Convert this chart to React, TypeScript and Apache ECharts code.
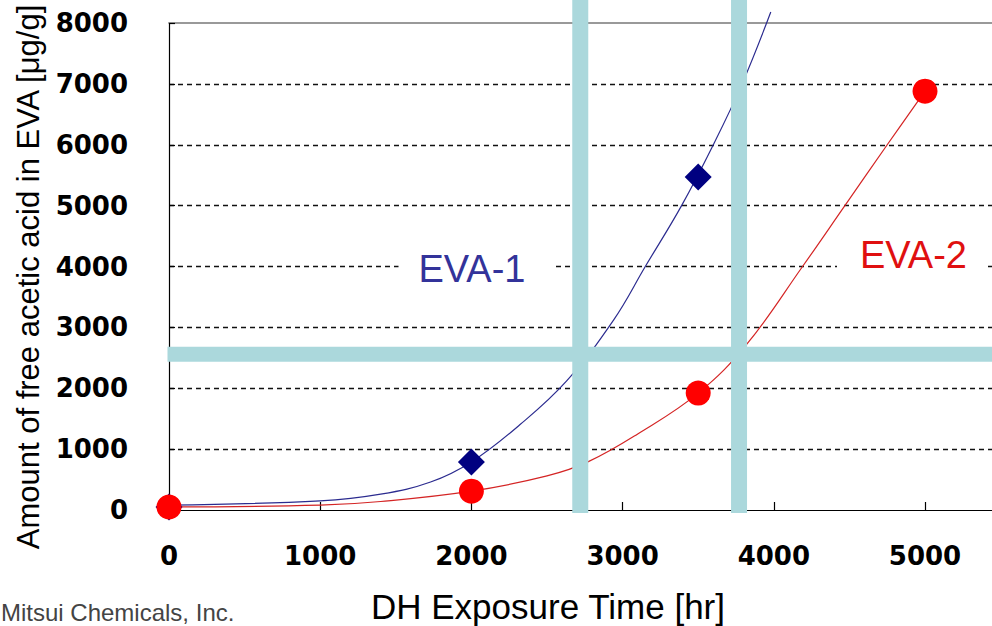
import React, { useEffect, useRef } from "react";
import * as echarts from "echarts";

// ---- data ----
const xTicks = [0, 1000, 2000, 3000, 4000, 5000];
const yTicks = [0, 1000, 2000, 3000, 4000, 5000, 6000, 7000, 8000];

// measured points
const eva1Points: [number, number][] = [
  [0, 50],
  [2000, 790],
  [3500, 5470],
];
const eva2Points: [number, number][] = [
  [0, 50],
  [2000, 310],
  [3500, 1920],
  [5000, 6880],
];

// fitted trend curves
const eva1Curve: [number, number][] = [
  [0, 80], [1000, 150], [1400, 260], [1730, 460], [2000, 790],
  [2320, 1400], [2630, 2120], [2940, 3120], [3150, 4000],
  [3390, 5000], [3600, 6000], [3790, 7000], [3980, 8180],
];
const eva2Curve: [number, number][] = [
  [0, 50], [1000, 80], [1400, 140], [2000, 310], [2500, 560], [2770, 790],
  [3100, 1250], [3500, 1920], [3820, 2720], [4190, 4000],
  [4470, 5000], [4750, 6000], [5000, 6880],
];

// highlighted reference bands
const bandX = [2720, 3770];
const bandY = [2560];

const BAND_COLOR = "#abd8dc";

export default function App() {
  const ref = useRef<HTMLDivElement>(null);

  useEffect(() => {
    if (!ref.current) return;
    const chart = echarts.init(ref.current, undefined, { renderer: "svg" });

    const bandSeries: any[] = [];
    bandX.forEach((v) => {
      bandSeries.push({
        type: "line",
        data: [[v, -50], [v, 8450]],
        showSymbol: false,
        clip: false,
        silent: true,
        z: 10,
        lineStyle: { color: BAND_COLOR, width: 16, cap: "butt" },
      });
    });
    bandY.forEach((v) => {
      bandSeries.push({
        type: "line",
        data: [[-10, v], [5700, v]],
        showSymbol: false,
        clip: false,
        silent: true,
        z: 10,
        lineStyle: { color: BAND_COLOR, width: 15, cap: "butt" },
      });
    });

    const tickFont = {
      fontFamily: "DejaVu Sans",
      fontSize: 26,
      fontWeight: "bold" as const,
      color: "#000",
    };

    chart.setOption({
      animation: false,
      backgroundColor: "#fff",
      grid: { left: 169, top: 23, right: 0, height: 487, containLabel: false },
      xAxis: [
        {
          type: "value",
          min: 0,
          max: 5443,
          interval: 1000,
          axisLine: { show: true, lineStyle: { color: "#000", width: 1.2 } },
          axisTick: { show: true, inside: true, length: 8, lineStyle: { color: "#000", width: 1.2 } },
          axisLabel: {
            ...tickFont,
            margin: 33,
            showMaxLabel: false,
            formatter: (v: number) => (xTicks.includes(v) ? String(v) : ""),
          },
          splitLine: { show: false },
        },
        {
          type: "value",
          position: "top",
          min: 0,
          max: 5443,
          axisLine: { show: true, lineStyle: { color: "#999", width: 2 } },
          axisTick: { show: false },
          axisLabel: { show: false },
          splitLine: { show: false },
        },
      ],
      yAxis: {
        type: "value",
        min: 0,
        max: 8000,
        interval: 1000,
        axisLine: { show: true, lineStyle: { color: "#000", width: 1.2 } },
        axisTick: { show: true, inside: true, length: 6, lineStyle: { color: "#000", width: 1.2 } },
        axisLabel: {
          ...tickFont,
          margin: 41,
          formatter: (v: number) => (yTicks.includes(v) ? String(v) : ""),
        },
        splitLine: {
          show: true,
          showMinLine: false,
          showMaxLine: false,
          lineStyle: { color: "#111", width: 1.3, type: [5, 4] },
        },
      },
      series: [
        {
          type: "line",
          name: "EVA-1 trend",
          data: eva1Curve,
          smooth: 0.4,
          showSymbol: false,
          clip: false,
          silent: true,
          z: 2,
          lineStyle: { color: "#2b2b8f", width: 1.2 },
        },
        {
          type: "line",
          name: "EVA-2 trend",
          data: eva2Curve,
          smooth: 0.4,
          showSymbol: false,
          clip: false,
          silent: true,
          z: 2,
          lineStyle: { color: "#d42424", width: 1.2 },
        },
        {
          type: "scatter",
          name: "EVA-1",
          data: eva1Points,
          symbol: "diamond",
          symbolSize: [27, 27],
          itemStyle: { color: "#000080", opacity: 1 },
          z: 3,
        },
        {
          type: "scatter",
          name: "EVA-2",
          data: eva2Points,
          symbol: "circle",
          symbolSize: 25,
          itemStyle: { color: "#ff0000", opacity: 1 },
          z: 4,
        },
        ...bandSeries,
      ],
      graphic: [
        {
          type: "text",
          z: 100,
          x: 476,
          y: 269,
          style: {
            text: "EVA-1",
            fontFamily: "Liberation Sans",
            fontSize: 38,
            fill: "#33339a",
            align: "center",
            verticalAlign: "middle",
            backgroundColor: "#fff",
            padding: [2, 28, 2, 20],
          },
        },
        {
          type: "text",
          z: 100,
          x: 912,
          y: 255,
          style: {
            text: "EVA-2",
            fontFamily: "Liberation Sans",
            fontSize: 38,
            fill: "#e01010",
            align: "center",
            verticalAlign: "middle",
            backgroundColor: "#fff",
            padding: [2, 20, 2, 23],
          },
        },
        {
          type: "text",
          z: 100,
          x: 28,
          y: 277,
          rotation: Math.PI / 2,
          style: {
            text: "Amount of free acetic acid in EVA [\u03bcg/g]",
            fontFamily: "Liberation Sans",
            fontSize: 31,
            fill: "#000",
            align: "center",
            verticalAlign: "middle",
          },
        },
        {
          type: "text",
          z: 100,
          x: 548,
          y: 606,
          style: {
            text: "DH Exposure Time [hr]",
            fontFamily: "Liberation Sans",
            fontSize: 35,
            fill: "#000",
            align: "center",
            verticalAlign: "middle",
          },
        },
        {
          type: "text",
          z: 100,
          x: 1,
          y: 612,
          style: {
            text: "Mitsui Chemicals, Inc.",
            fontFamily: "Liberation Sans",
            fontSize: 24,
            fill: "#444",
            align: "left",
            verticalAlign: "middle",
          },
        },
      ],
    });

    return () => chart.dispose();
  }, []);

  return (
    <div
      ref={ref}
      style={{ position: "fixed", left: 0, top: 0, width: 992, height: 626, background: "#fff" }}
    />
  );
}
